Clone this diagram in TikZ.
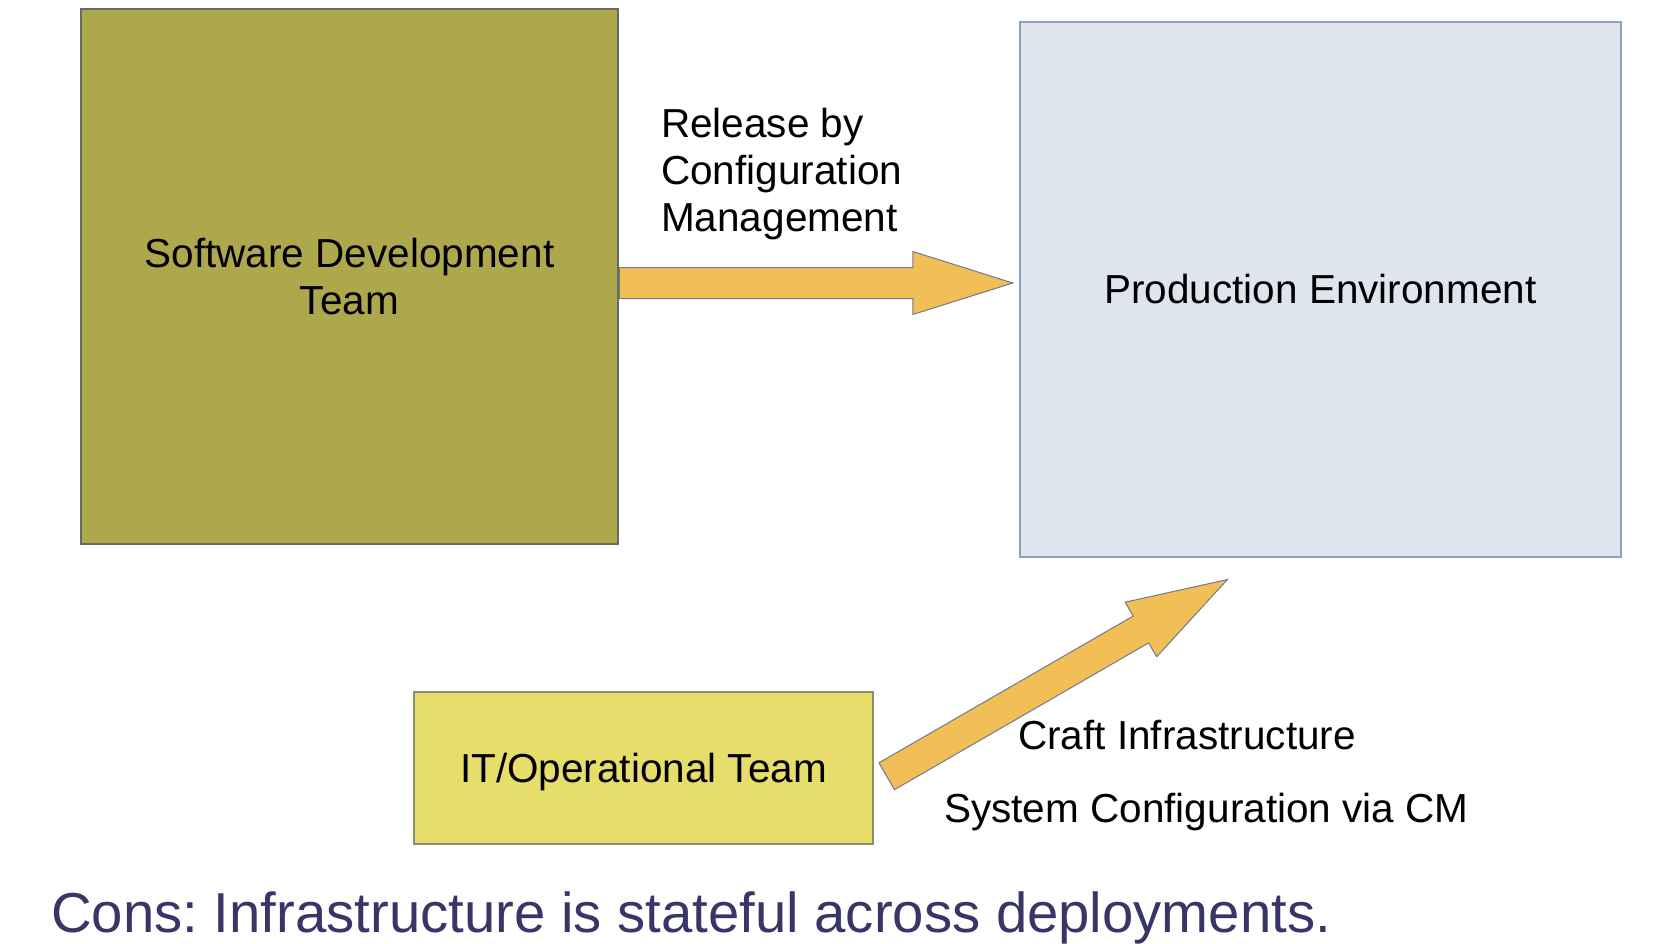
\documentclass[tikz,border=0pt]{standalone}
\usepackage{fontspec}
\setmainfont{Liberation Sans}
\usetikzlibrary{shapes,arrows,positioning,calc,arrows.meta}
\frenchspacing

\definecolor{devolive}{RGB}{174,168,76}
\definecolor{devedge}{RGB}{105,108,92}
\definecolor{prodblue}{RGB}{223,229,239}
\definecolor{prodedge}{RGB}{140,160,198}
\definecolor{opsyellow}{RGB}{230,221,106}
\definecolor{opsedge}{RGB}{140,140,112}
\definecolor{arrowfill}{RGB}{242,190,86}
\definecolor{arrowedge}{RGB}{112,122,138}
\definecolor{consnavy}{RGB}{56,54,102}

% fat arrow from one point to another
\newcommand{\blockarrow}[3]{%
    \path let \p1=($(#3)-(#2)$), \n1={veclen(\x1,\y1)}, \n2={atan2(\y1,\x1)} in
        node[fatarrow, minimum height=\n1, rotate=\n2, anchor=tail] (#1) at (#2) {};
}

\begin{document}
\begin{tikzpicture}[
        x=1pt, y=-1pt,
        every node/.style={font=\fontsize{40.5}{47}\selectfont},
        team/.style={rectangle, draw, line width=1.5pt, inner sep=0pt, align=center},
        fatarrow/.style={single arrow, draw=arrowedge, line width=1pt, fill=arrowfill, inner xsep=0pt, inner ysep=15pt,
            minimum width=62pt, single arrow head extend=16pt, single arrow tip angle=35, single arrow head indent=0pt},
        caption/.style={inner sep=0pt, anchor=base west},
    ]
        \useasboundingbox (0,0) rectangle (1680,944);

        \node[team, fill=devolive, draw=devedge, minimum width=537pt, minimum height=535pt] (dev) at (349.5,276.5)
            {Software Development\\Team};
        \node[team, fill=prodblue, draw=prodedge, minimum width=601pt, minimum height=535pt] (prod) at (1320.5,289.5)
            {Production Environment};
        \node[team, fill=opsyellow, draw=opsedge, minimum width=459pt, minimum height=152pt,
            text height=29pt, text depth=0pt] (ops) at (643.5,768)
            {IT/Operational Team};

        \coordinate (relstart) at ([yshift=-6.5pt]dev.east);
        \coordinate (reltip) at ([xshift=-7pt, yshift=6.5pt]prod.west);
        \coordinate (craftstart) at ([xshift=12.5pt, yshift=-8.5pt]ops.east);
        \coordinate (crafttip) at ([xshift=-93.5pt, yshift=-22pt]prod.south);

        \blockarrow{release}{relstart}{reltip}
        \blockarrow{craft}{craftstart}{crafttip}

        \node[inner sep=0pt, align=left, anchor=north west] (rellabel) at (661,108)
            {Release by\\Configuration\\Management};
        \node[caption] (craftlabel) at (1018,749) {Craft Infrastructure};
        \node[caption] (syslabel) at (944,822) {System Configuration via CM};

        \node[caption, text=consnavy, font=\fontsize{56.3}{64}\selectfont] (cons) at (51,932)
            {Cons: Infrastructure is stateful across deployments.};

    \end{tikzpicture}
\end{document}
